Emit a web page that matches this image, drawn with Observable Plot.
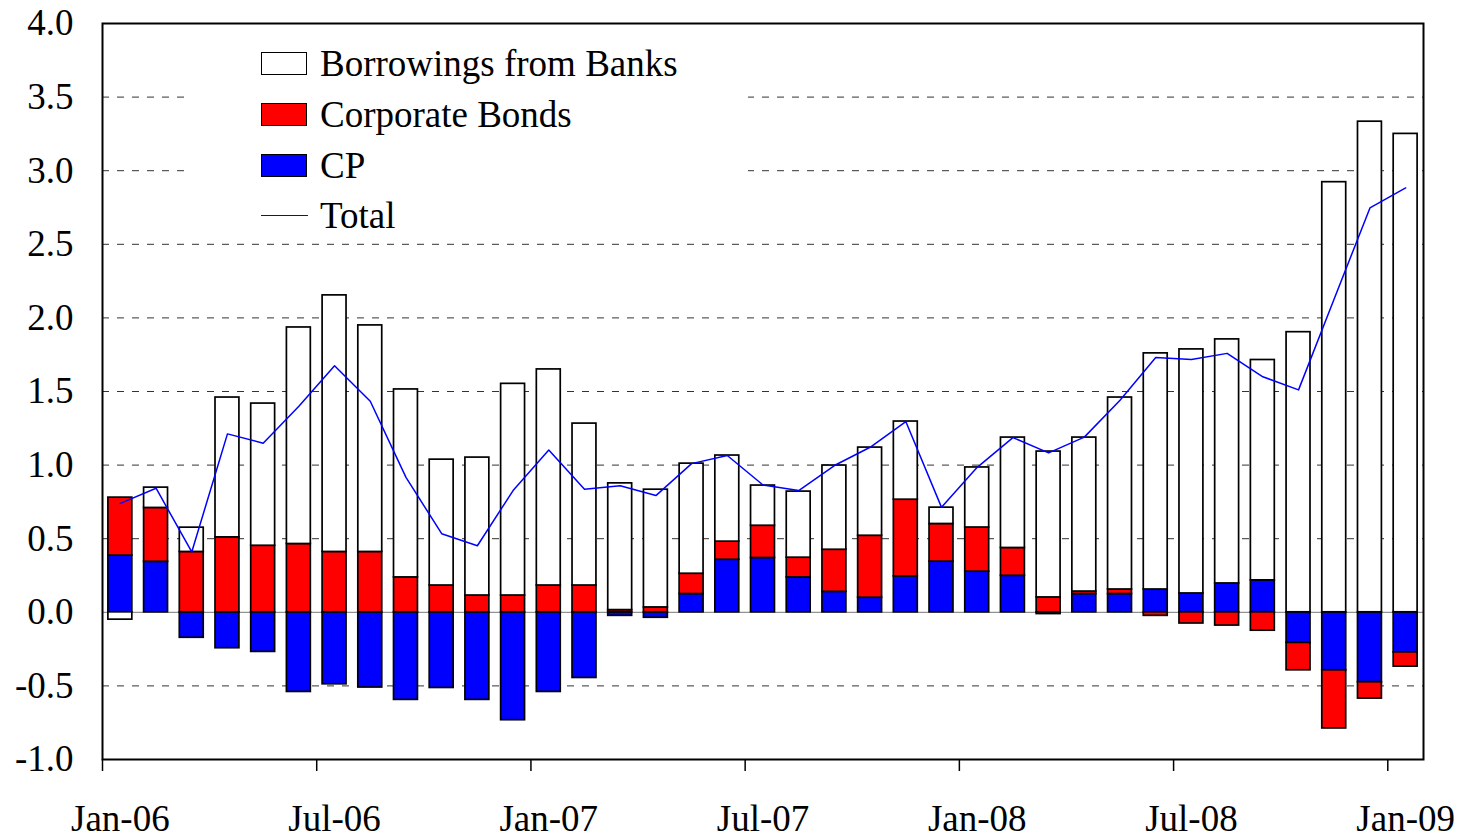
<!DOCTYPE html>
<html>
<head>
<meta charset="utf-8">
<script src="https://cdn.jsdelivr.net/npm/d3@7"></script>
<script src="https://cdn.jsdelivr.net/npm/@observablehq/plot@0.6"></script>
<style>
  html, body { margin: 0; padding: 0; background: #fff; }
  #wrap { position: relative; width: 1459px; height: 838px; font-family: "Liberation Serif", "Times New Roman", serif; }
  #legend { position: absolute; left: 185px; top: 33px; width: 563px; height: 205px; background: #fff; }
  .item { position: absolute; left: 76px; height: 0; }
  .sw { position: absolute; left: 0; width: 44px; height: 21px; border: 1.5px solid #000; top: -12px; }
  .ln { position: absolute; left: 0; width: 47px; height: 0; border-top: 1.5px solid #0000ff; top: -1px; }
  .lab { position: absolute; left: 59px; top: -21px; font-size: 37px; line-height: 42px; white-space: nowrap; color: #000; }
</style>
</head>
<body>
<div id="wrap"></div>
<script>
const months = ["Jan-06","Feb-06","Mar-06","Apr-06","May-06","Jun-06","Jul-06","Aug-06","Sep-06","Oct-06","Nov-06","Dec-06",
  "Jan-07","Feb-07","Mar-07","Apr-07","May-07","Jun-07","Jul-07","Aug-07","Sep-07","Oct-07","Nov-07","Dec-07",
  "Jan-08","Feb-08","Mar-08","Apr-08","May-08","Jun-08","Jul-08","Aug-08","Sep-08","Oct-08","Nov-08","Dec-08","Jan-09"];

const cp = [0.385,0.343,-0.173,-0.244,-0.269,-0.541,-0.489,-0.511,-0.595,-0.514,-0.595,-0.733,
  -0.541,-0.446,-0.024,-0.037,0.124,0.357,0.369,0.237,0.139,0.099,0.244,0.344,
  0.276,0.248,-0.012,0.124,0.124,0.155,0.128,0.196,0.217,-0.208,-0.394,-0.475,-0.272];

const corporateBonds = [0.394,0.366,0.41,0.509,0.452,0.464,0.41,0.41,0.237,0.182,0.114,0.114,
  0.182,0.182,0.015,0.033,0.138,0.123,0.219,0.134,0.286,0.421,0.521,0.256,
  0.30,0.189,0.101,0.017,0.031,-0.024,-0.076,-0.09,-0.125,-0.186,-0.395,-0.111,-0.097];

const borrowings = [-0.05,0.138,0.165,0.95,0.966,1.471,1.743,1.539,1.277,0.855,0.937,1.438,
  1.468,1.10,0.861,0.80,0.748,0.585,0.273,0.449,0.572,0.599,0.531,0.111,
  0.408,0.75,0.991,1.046,1.304,1.604,1.658,1.658,1.497,1.903,2.922,3.333,3.25];

const total = [0.74,0.843,0.41,1.212,1.149,1.40,1.675,1.434,0.917,0.534,0.452,0.827,
  1.102,0.836,0.86,0.793,1.01,1.065,0.865,0.827,0.997,1.121,1.296,0.713,
  0.985,1.187,1.083,1.19,1.44,1.731,1.717,1.759,1.6,1.511,2.13,2.747,2.883];

const seriesNames = ["CP", "Corporate Bonds", "Borrowings from Banks"];
const seriesFills = ["#0000ff", "#ff0000", "#ffffff"];
const legendOrder = ["Borrowings from Banks", "Corporate Bonds", "CP", "Total"];
const tickMonths = ["Jan-06","Jul-06","Jan-07","Jul-07","Jan-08","Jul-08","Jan-09"];
const yTicks = [-1.0,-0.5,0.0,0.5,1.0,1.5,2.0,2.5,3.0,3.5,4.0];
const gridValues = [-0.5,0.5,1.0,1.5,2.0,2.5,3.0,3.5];

const seriesValues = [cp, corporateBonds, borrowings];
const rows = months.flatMap((m, i) => seriesNames.map((s, k) => ({month: m, series: s, value: seriesValues[k][i]})));
const totalRows = months.map((m, i) => ({month: m, total: total[i]}));

const W = 1459, H = 838, ML = 102, MR = 36, MT = 23, MB = 79;
const step = (W - ML - MR) / months.length;

const chart = Plot.plot({
  width: W, height: H,
  marginLeft: ML, marginRight: MR, marginTop: MT, marginBottom: MB,
  style: {fontFamily: "'Liberation Serif', 'Times New Roman', serif", fontSize: "37px", color: "#000", background: "#fff"},
  x: {type: "band", domain: months, paddingInner: 0.33, paddingOuter: 0.165, round: false, label: null},
  y: {domain: [-1, 4], label: null},
  color: {domain: seriesNames, range: seriesFills},
  marks: [
    Plot.ruleY(gridValues, {stroke: "#333", strokeDasharray: "7,8", strokeWidth: 1}),
    Plot.ruleY([0], {stroke: "#777", strokeWidth: 1}),
    Plot.barY(rows, {x: "month", y: "value", fill: "series", stroke: "#000", strokeWidth: 1.7}),
    Plot.lineY(totalRows, {x: "month", y: "total", stroke: "#0000ff", strokeWidth: 1.5}),
    Plot.ruleX(tickMonths, {x: d => d, y1: -1, y2: -1, insetBottom: -12, dx: -step / 2, stroke: "#000", strokeWidth: 1.5}),
    Plot.axisX(tickMonths, {tickSize: 0, tickPadding: 45, fill: "#000", label: null}),
    Plot.axisY(yTicks, {tickSize: 0, tickPadding: 29, tickFormat: d => d.toFixed(1), fill: "#000", label: null}),
    Plot.frame({stroke: "#000", strokeWidth: 2})
  ]
});

const wrap = document.getElementById("wrap");
wrap.appendChild(chart);

const legend = document.createElement("div");
legend.id = "legend";
const rowCenters = [31, 82, 133, 183];
legendOrder.forEach((name, i) => {
  const item = document.createElement("div");
  item.className = "item";
  item.style.top = rowCenters[i] + "px";
  const k = seriesNames.indexOf(name);
  const sw = document.createElement("div");
  if (k >= 0) { sw.className = "sw"; sw.style.background = seriesFills[k]; }
  else { sw.className = "ln"; }
  const lab = document.createElement("div");
  lab.className = "lab";
  lab.textContent = name;
  item.appendChild(sw);
  item.appendChild(lab);
  legend.appendChild(item);
});
wrap.appendChild(legend);
</script>
</body>
</html>
